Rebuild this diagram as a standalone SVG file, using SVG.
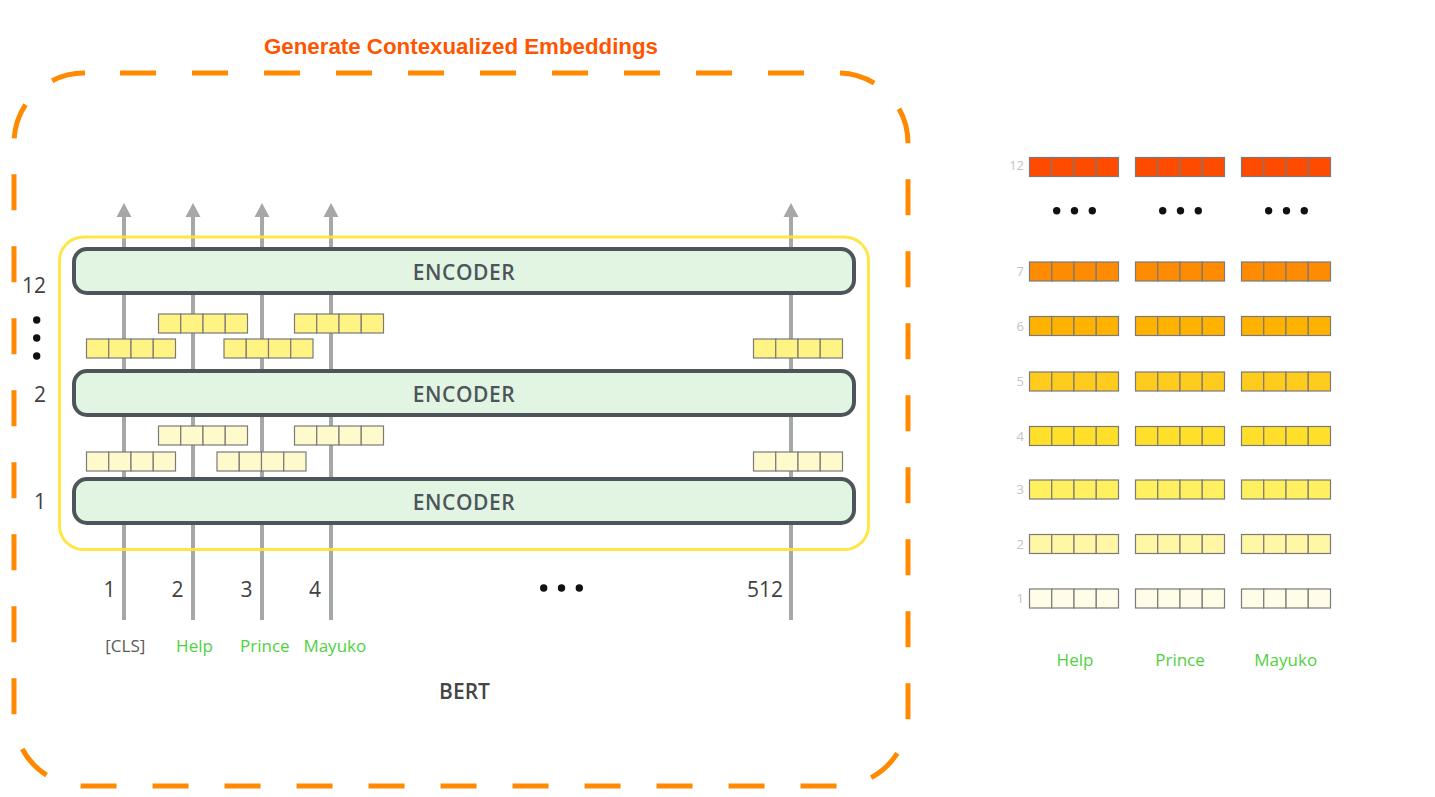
<svg xmlns="http://www.w3.org/2000/svg" xmlns:xlink="http://www.w3.org/1999/xlink" width="1435" height="797" viewBox="0 0 1435 797">
<style>
.os{font-family:"Open Sans","Noto Sans","DejaVu Sans",sans-serif}
.num{font-size:21px;fill:#404040}
.enc rect{fill:#E2F5E3;stroke:#4D555B;stroke-width:4}
.enc text{font-size:21px;font-weight:600;fill:#4D555B;text-anchor:middle;letter-spacing:0.6px}
.vec rect{stroke:#7A7A7A;stroke-width:1.2}
.tok{font-size:17px;text-anchor:middle}
.green{fill:#4FD13F}
.rl{font-size:13px;fill:#C4C4C4;text-anchor:end}
.conn line{stroke:#A6A8A8;stroke-width:4}
</style>
<defs>
<marker id="ah" markerUnits="userSpaceOnUse" markerWidth="16" markerHeight="16" refX="0" refY="8" orient="auto" viewBox="0 0 16 16">
<path d="M0,0.5 L14,8 L0,15.5 Z" fill="#A6A8A8"/>
</marker>
<g id="vec" class="vec">
<rect x="0" y="0" width="22.25" height="19"/>
<rect x="22.25" y="0" width="22.25" height="19"/>
<rect x="44.5" y="0" width="22.25" height="19"/>
<rect x="66.75" y="0" width="22.25" height="19"/>
</g>
<g id="dots3">
<circle cx="0" cy="0" r="3.7"/>
<circle cx="17.8" cy="0" r="3.7"/>
<circle cx="35.6" cy="0" r="3.7"/>
</g>
</defs>
<rect width="1435" height="797" fill="#FFFFFF"/>

<g id="outer-frame">
<path d="M85,73 H838 A70,70 0 0 1 908,143 V716 A70,70 0 0 1 838,786 H84 A70,70 0 0 1 14,716 V143 A70,70 0 0 1 84,73 Z" fill="none" stroke="#FF8A00" stroke-width="5" stroke-dasharray="36 36" stroke-dashoffset="37"/>
<text x="461" y="54" text-anchor="middle" font-family="Liberation Sans, Arial, sans-serif" font-weight="bold" font-size="22.3" fill="#FF5500">Generate Contexualized Embeddings</text>
</g>

<g id="connectors" class="conn">
<line x1="124" y1="620" x2="124" y2="217" marker-end="url(#ah)"/>
<line x1="193" y1="620" x2="193" y2="217" marker-end="url(#ah)"/>
<line x1="262" y1="620" x2="262" y2="217" marker-end="url(#ah)"/>
<line x1="331" y1="620" x2="331" y2="217" marker-end="url(#ah)"/>
<line x1="791" y1="620" x2="791" y2="217" marker-end="url(#ah)"/>
</g>

<g id="bert">
<rect x="59.5" y="237" width="809" height="312.5" rx="24" fill="none" stroke="#FFE333" stroke-width="3" stroke-opacity="0.9"/>
<text class="os" x="464.5" y="699" font-size="21" font-weight="600" fill="#454545" text-anchor="middle">BERT</text>
</g>

<g id="encoder-12" class="enc os">
<rect x="74" y="249" width="780" height="44" rx="13"/>
<text x="464" y="279.5">ENCODER</text>
</g>
<g id="encoder-2" class="enc os">
<rect x="74" y="371" width="780" height="44" rx="13"/>
<text x="464" y="401.5">ENCODER</text>
</g>
<g id="encoder-1" class="enc os">
<rect x="74" y="479" width="780" height="44" rx="13"/>
<text x="464" y="509.5">ENCODER</text>
</g>

<g id="layer2-vectors" fill="#FFF383">
<use xlink:href="#vec" x="158.5" y="314"/>
<use xlink:href="#vec" x="294.5" y="314"/>
<use xlink:href="#vec" x="86.5" y="339"/>
<use xlink:href="#vec" x="224" y="339"/>
<use xlink:href="#vec" x="753.5" y="339"/>
</g>
<g id="layer1-vectors" fill="#FFFACB">
<use xlink:href="#vec" x="158.5" y="426"/>
<use xlink:href="#vec" x="294.5" y="426"/>
<use xlink:href="#vec" x="86.5" y="452"/>
<use xlink:href="#vec" x="217" y="452"/>
<use xlink:href="#vec" x="753.5" y="452"/>
</g>

<g id="layer-labels" class="os num">
<text x="46" y="293" text-anchor="end">12</text>
<g fill="#111"><circle cx="36.7" cy="320" r="3.7"/><circle cx="36.7" cy="338" r="3.7"/><circle cx="36.7" cy="356" r="3.7"/></g>
<text x="46" y="401.5" text-anchor="end">2</text>
<text x="46" y="508.5" text-anchor="end">1</text>
</g>

<g id="position-labels" class="os num" text-anchor="middle">
<text x="109.5" y="597">1</text>
<text x="177.5" y="597">2</text>
<text x="246.5" y="597">3</text>
<text x="315" y="597">4</text>
<use xlink:href="#dots3" x="543.7" y="588" fill="#111"/>
<text x="765" y="597">512</text>
</g>

<g id="tokens" class="os">
<text class="tok" x="125.3" y="651.5" fill="#5A5A5A">[CLS]</text>
<text class="tok green" x="194.5" y="651.5">Help</text>
<text class="tok green" x="264.8" y="651.5">Prince</text>
<text class="tok green" x="334.8" y="651.5">Mayuko</text>
</g>

<g id="embedding-grid">
<g class="os rl">
<text x="1024" y="170">12</text>
<text x="1024" y="276">7</text>
<text x="1024" y="330.5">6</text>
<text x="1024" y="386">5</text>
<text x="1024" y="440.5">4</text>
<text x="1024" y="494">3</text>
<text x="1024" y="548.5">2</text>
<text x="1024" y="603">1</text>
</g>
<g fill="#FF4B00">
<use xlink:href="#vec" x="1029.5" y="157.5"/><use xlink:href="#vec" x="1135.5" y="157.5"/><use xlink:href="#vec" x="1241.5" y="157.5"/>
</g>
<g fill="#111">
<use xlink:href="#dots3" x="1056.7" y="210.7"/><use xlink:href="#dots3" x="1162.7" y="210.7"/><use xlink:href="#dots3" x="1268.7" y="210.7"/>
</g>
<g fill="#FF8B00">
<use xlink:href="#vec" x="1029.5" y="262"/><use xlink:href="#vec" x="1135.5" y="262"/><use xlink:href="#vec" x="1241.5" y="262"/>
</g>
<g fill="#FFB300">
<use xlink:href="#vec" x="1029.5" y="316.5"/><use xlink:href="#vec" x="1135.5" y="316.5"/><use xlink:href="#vec" x="1241.5" y="316.5"/>
</g>
<g fill="#FFCB1C">
<use xlink:href="#vec" x="1029.5" y="372"/><use xlink:href="#vec" x="1135.5" y="372"/><use xlink:href="#vec" x="1241.5" y="372"/>
</g>
<g fill="#FFDF2A">
<use xlink:href="#vec" x="1029.5" y="426.5"/><use xlink:href="#vec" x="1135.5" y="426.5"/><use xlink:href="#vec" x="1241.5" y="426.5"/>
</g>
<g fill="#FFF060">
<use xlink:href="#vec" x="1029.5" y="480"/><use xlink:href="#vec" x="1135.5" y="480"/><use xlink:href="#vec" x="1241.5" y="480"/>
</g>
<g fill="#FFF6A6">
<use xlink:href="#vec" x="1029.5" y="534.5"/><use xlink:href="#vec" x="1135.5" y="534.5"/><use xlink:href="#vec" x="1241.5" y="534.5"/>
</g>
<g fill="#FFFCE8">
<use xlink:href="#vec" x="1029.5" y="589"/><use xlink:href="#vec" x="1135.5" y="589"/><use xlink:href="#vec" x="1241.5" y="589"/>
</g>
<g class="os">
<text class="tok green" x="1075" y="665.5">Help</text>
<text class="tok green" x="1180" y="665.5">Prince</text>
<text class="tok green" x="1285.7" y="665.5">Mayuko</text>
</g>
</g>
</svg>
